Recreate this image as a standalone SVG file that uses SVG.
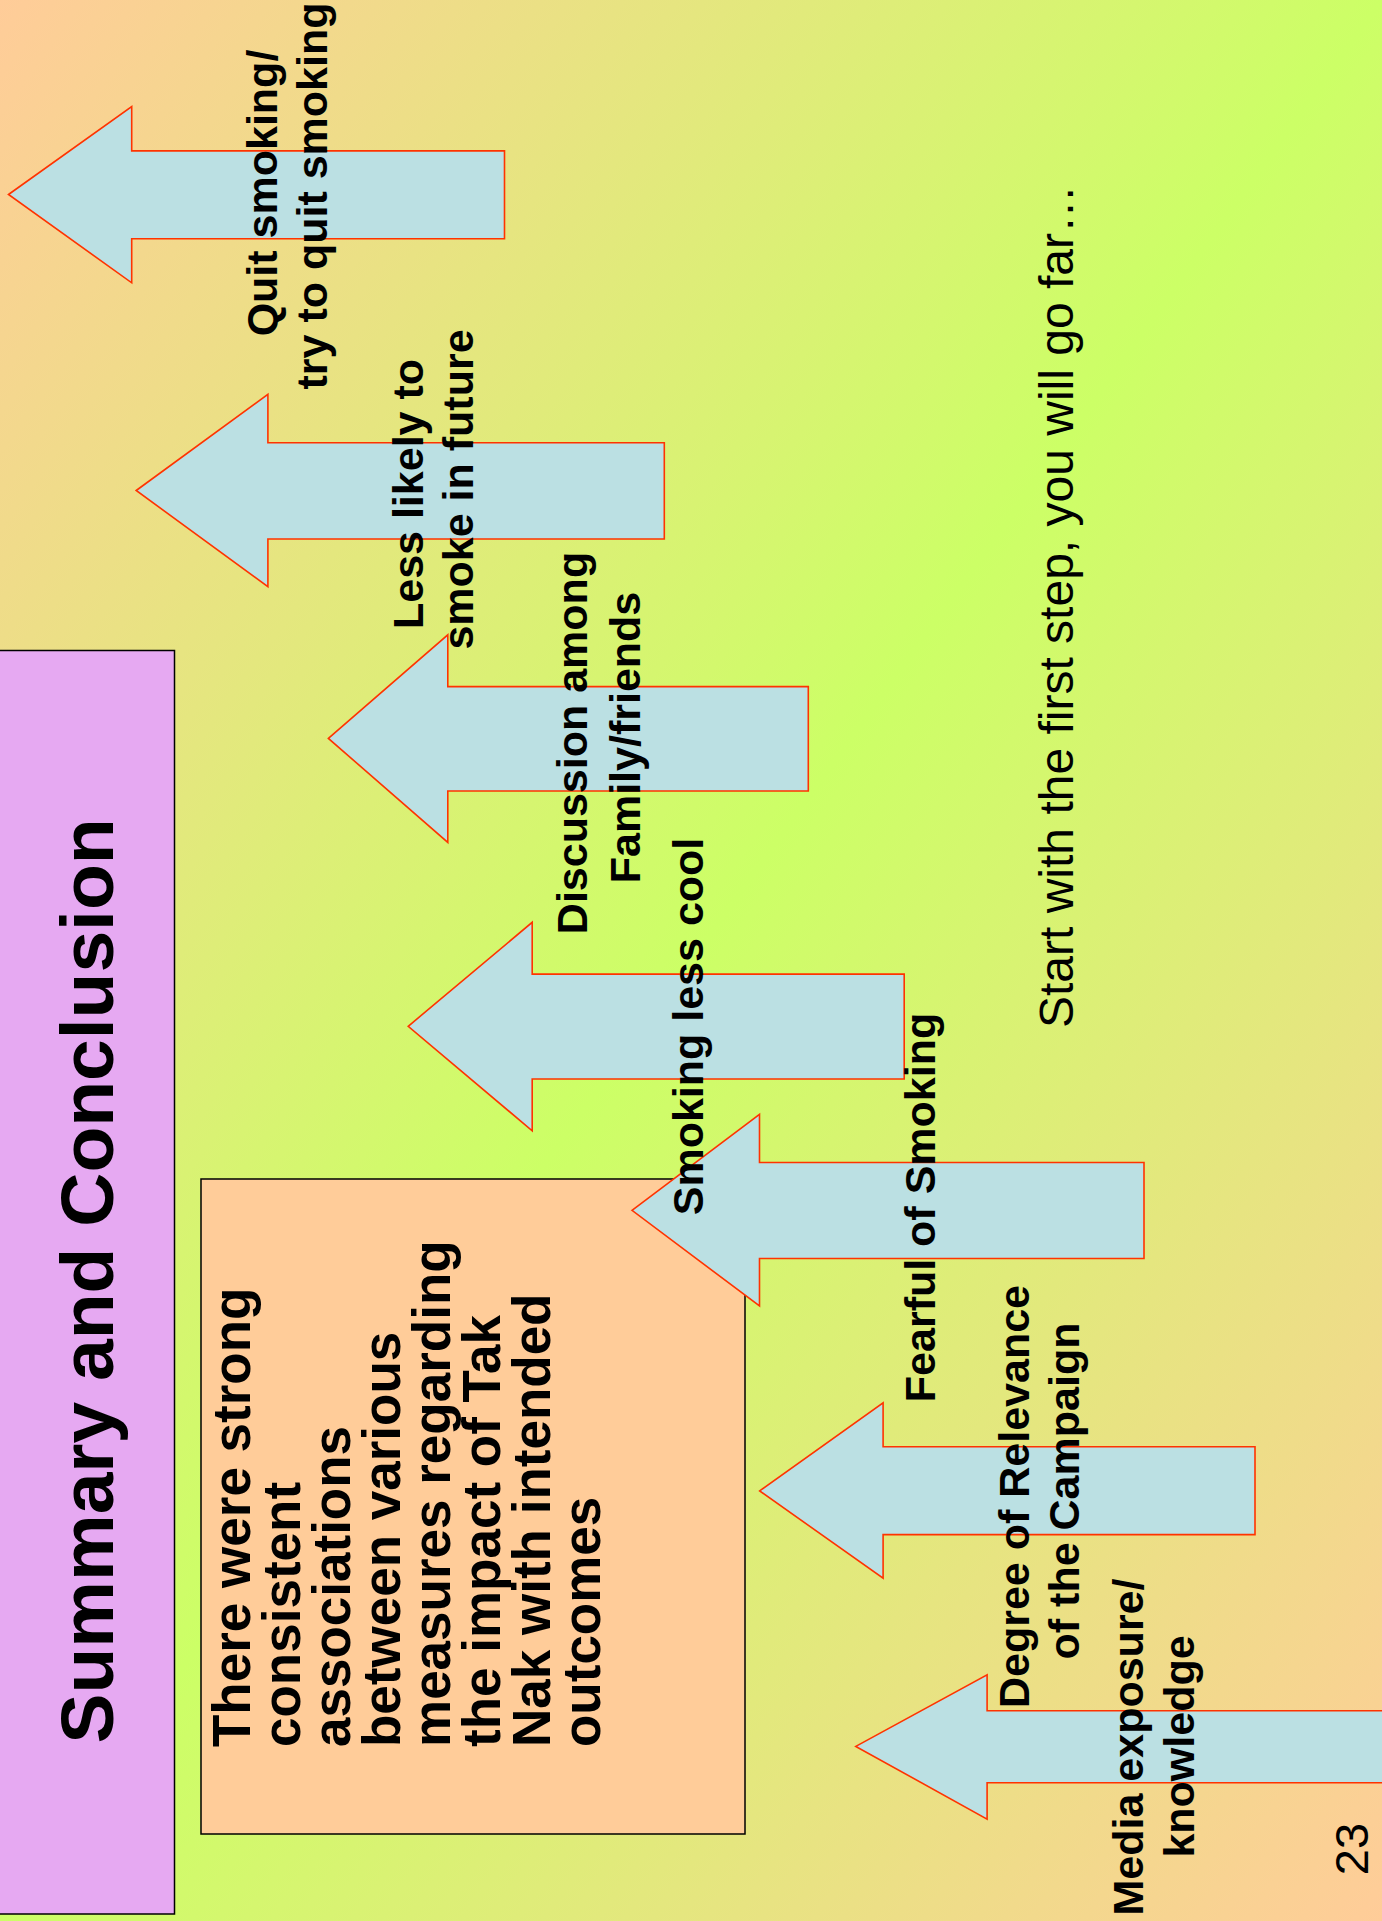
<svg xmlns="http://www.w3.org/2000/svg" width="1382" height="1921" viewBox="0 0 1382 1921">
  <defs>
    <linearGradient id="bg" x1="0" y1="0" x2="1" y2="1">
      <stop offset="0" stop-color="#FFCC99"/>
      <stop offset="0.5" stop-color="#CCFF66"/>
      <stop offset="1" stop-color="#FFCC99"/>
    </linearGradient>
  </defs>
  <style>
    .arrow { fill: #BBE0E3; stroke: #FF3300; stroke-width: 1.6; }
    .lbl { font-family: "Liberation Sans", Arial, sans-serif; font-weight: bold; font-size: 43px; fill: #000; text-anchor: middle; }
    .body { font-family: "Liberation Sans", Arial, sans-serif; font-weight: bold; font-size: 53px; fill: #000; }
    .title { font-family: "Liberation Sans", Arial, sans-serif; font-weight: bold; font-size: 75px; fill: #000; text-anchor: middle; }
    .plain { font-family: "Liberation Sans", Arial, sans-serif; font-weight: normal; fill: #000; }
  </style>

  <rect x="0" y="0" width="1382" height="1921" fill="url(#bg)"/>

  <g id="title">
    <rect x="-2" y="650.5" width="176.5" height="1263.5" fill="#E6A9F2" stroke="#000" stroke-width="1.5"/>
    <text class="title" transform="translate(113,1281) rotate(-90)">Summary and Conclusion</text>
  </g>

  <g id="summary-box">
    <rect x="201" y="1179" width="544" height="655" fill="#FFCC99" stroke="#000" stroke-width="1.5"/>
    <text class="body" transform="translate(250,1747) rotate(-90)">There were strong</text>
    <text class="body" transform="translate(300,1747) rotate(-90)">consistent</text>
    <text class="body" transform="translate(350,1747) rotate(-90)">associations</text>
    <text class="body" transform="translate(400,1747) rotate(-90)">between various</text>
    <text class="body" transform="translate(450,1747) rotate(-90)">measures regarding</text>
    <text class="body" transform="translate(500,1747) rotate(-90)">the impact of Tak</text>
    <text class="body" transform="translate(550,1747) rotate(-90)">Nak with intended</text>
    <text class="body" transform="translate(600,1747) rotate(-90)">outcomes</text>
  </g>

  <g id="connectors"></g>

  <g id="arrow-quit">
    <path class="arrow" d="M8.5,194.5 L131.7,106.6 L131.7,150.9 L504.5,150.9 L504.5,238.8 L131.7,238.8 L131.7,282.8 Z"/>
  </g>
  <g id="arrow-less-likely">
    <path class="arrow" d="M136.2,490.5 L267.9,394.3 L267.9,442.8 L664.3,442.8 L664.3,539 L267.9,539 L267.9,586.6 Z"/>
  </g>
  <g id="arrow-discussion">
    <path class="arrow" d="M328.4,738.4 L447.8,634.8 L447.8,686.6 L808.3,686.6 L808.3,791 L447.8,791 L447.8,842.4 Z"/>
  </g>
  <g id="arrow-less-cool">
    <path class="arrow" d="M408.2,1026.3 L532.2,922.3 L532.2,974.1 L904.2,974.1 L904.2,1079 L532.2,1079 L532.2,1130.8 Z"/>
  </g>
  <g id="arrow-fearful">
    <path class="arrow" d="M632,1210.3 L759.5,1114.3 L759.5,1162.5 L1144,1162.5 L1144,1258.5 L759.5,1258.5 L759.5,1306 Z"/>
  </g>
  <g id="arrow-relevance">
    <path class="arrow" d="M759.7,1490.9 L883.1,1402.8 L883.1,1446.8 L1255,1446.8 L1255,1534.6 L883.1,1534.6 L883.1,1578.2 Z"/>
  </g>
  <g id="arrow-media">
    <path class="arrow" d="M855.8,1746.4 L987.1,1674.9 L987.1,1710.8 L1400,1710.8 L1400,1782.7 L987.1,1782.7 L987.1,1819.1 Z"/>
  </g>

  <g id="labels">
    <text class="lbl" transform="translate(277,193) rotate(-90)">Quit smoking/</text>
    <text class="lbl" transform="translate(327,196) rotate(-90)">try to quit smoking</text>
    <text class="lbl" transform="translate(423,494) rotate(-90)">Less likely to</text>
    <text class="lbl" transform="translate(473,489.5) rotate(-90)">smoke in future</text>
    <text class="lbl" transform="translate(587,743) rotate(-90)">Discussion among</text>
    <text class="lbl" transform="translate(640,737.5) rotate(-90)">Family/friends</text>
    <text class="lbl" transform="translate(703,1026.5) rotate(-90)">Smoking less cool</text>
    <text class="lbl" transform="translate(935,1207.5) rotate(-90)">Fearful of Smoking</text>
    <text class="lbl" transform="translate(1029,1496.5) rotate(-90)">Degree of Relevance</text>
    <text class="lbl" transform="translate(1079,1491) rotate(-90)">of the Campaign</text>
    <text class="lbl" transform="translate(1143,1747) rotate(-90)">Media exposure/</text>
    <text class="lbl" transform="translate(1194,1746.5) rotate(-90)">knowledge</text>
  </g>

  <g id="motto">
    <text class="plain" font-size="48" transform="translate(1073,1028) rotate(-90)">Start with the first step, you will go far…</text>
  </g>
  <g id="page-number">
    <text class="plain" font-size="47" text-anchor="middle" transform="translate(1368,1849) rotate(-90)">23</text>
  </g>
</svg>
